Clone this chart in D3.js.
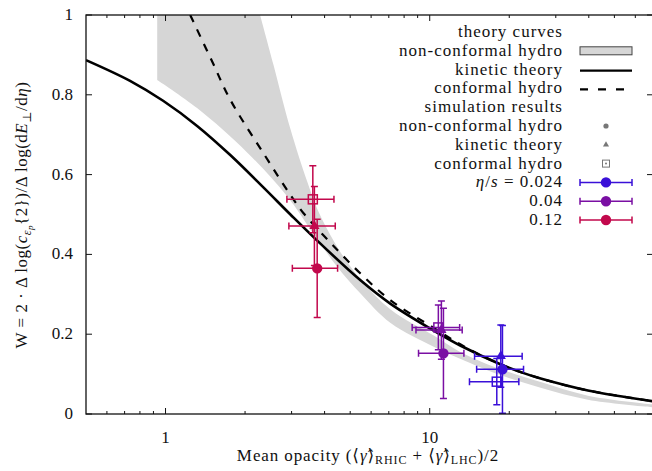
<!DOCTYPE html>
<html>
<head>
<meta charset="utf-8">
<script src="https://cdn.jsdelivr.net/npm/d3@7"></script>
<style>
  body { margin: 0; background: #fff; }
  svg text { fill: #111; font-family: "Liberation Serif", "Times New Roman", Times, "DejaVu Serif", "Noto Serif", serif; }
</style>
</head>
<body>
<svg id="chart"></svg>
<script>
// theory curves
const kineticX = [0.5, 0.734, 0.979, 1.317, 1.758, 2.346, 2.97, 3.69, 5.47, 7.11, 10.35, 13.1, 18.6, 22.1, 26.3, 39.7, 70];
const kineticW = [0.887, 0.835, 0.785, 0.722, 0.649, 0.568, 0.500, 0.439, 0.335, 0.276, 0.209, 0.171, 0.124, 0.105, 0.089, 0.059, 0.032];

const conformalX = [1.24, 1.5, 1.76, 2.35, 2.97, 3.33, 4.2, 5.47, 7.11, 10.4, 13.1, 18.6, 26.3, 39.7, 70];
const conformalW = [1.0, 0.884, 0.787, 0.653, 0.549, 0.503, 0.430, 0.352, 0.285, 0.215, 0.174, 0.124, 0.089, 0.059, 0.032];

// non-conformal hydro band: upper and lower edges
const bandUpX = [0.93, 2.28, 2.56, 2.97, 3.44, 3.86, 4.6, 5.47, 7.11, 10.4, 13.1, 18.6, 26.3, 39.7, 70];
const bandUpW = [1.0, 1.0, 0.876, 0.714, 0.582, 0.496, 0.405, 0.338, 0.262, 0.196, 0.155, 0.112, 0.080, 0.046, 0.024];
const bandLoX = [0.93, 1.32, 2.04, 2.89, 3.6, 4.5, 5.47, 7.11, 10.4, 13.1, 18.6, 26.3, 39.7, 70];
const bandLoW = [0.837, 0.766, 0.655, 0.545, 0.455, 0.366, 0.302, 0.228, 0.168, 0.138, 0.097, 0.066, 0.036, 0.017];

// simulation results, one entry per eta/s
const etaLabels = ["\u03B7/s = 0.024", "0.04", "0.12"];
const xErr = [3.8, 2.2, 0.73];

const hydroSimX = [18.85, 11.27, 3.75];
const hydroSimW = [0.112, 0.152, 0.365];
const hydroSimErr = [0.11, 0.113, 0.123];

const kineticSimX = [18.58, 11.07, 3.66];
const kineticSimW = [0.145, 0.2105, 0.471];
const kineticSimErr = [0.078, 0.073, 0.099];

const conformalSimX = [17.94, 10.78, 3.61];
const conformalSimW = [0.081, 0.217, 0.538];
const conformalSimErr = [0.058, 0.056, 0.084];

// axes
const xMajor = [1, 10];
const xMinor = [0.6, 0.7, 0.8, 0.9, 2, 3, 4, 5, 6, 7, 8, 9, 20, 30, 40, 50, 60];
const yTicks = [0, 0.2, 0.4, 0.6, 0.8, 1];

const width = 652, height = 471;
const margin = { top: 15, right: -1, bottom: 57, left: 86 };
const colors = ["#3a10d8", "#7a0fa3", "#c2084c"];

const svg = d3.select("#chart").attr("width", width).attr("height", height);

const x = d3.scaleLog().domain([0.5, 70]).range([margin.left, width - margin.right]);
const y = d3.scaleLinear().domain([0, 1]).range([height - margin.bottom, margin.top]);

svg.append("defs").append("clipPath").attr("id", "clip")
  .append("rect")
  .attr("x", margin.left).attr("y", margin.top)
  .attr("width", x.range()[1] - margin.left).attr("height", y(0) - margin.top);

const plot = svg.append("g").attr("clip-path", "url(#clip)");

const smooth = d3.line().x(d => x(d[0])).y(d => y(d[1])).curve(d3.curveCatmullRom);
const zip = (a, b) => a.map((v, i) => [v, b[i]]);

// gray band
const up = zip(bandUpX, bandUpW);
const lo = zip(bandLoX, bandLoW);
const upPath = smooth(up.slice(1)).replace(/^M/, "L");
const loPath = smooth(lo.slice().reverse()).replace(/^M/, "L");
plot.append("path")
  .attr("d", `M${x(lo[0][0])},${y(lo[0][1])}L${x(up[0][0])},${y(up[0][1])}${upPath}${loPath}Z`)
  .attr("fill", "#d6d6d6")
  .attr("stroke", "none");

// kinetic theory
plot.append("path")
  .datum(zip(kineticX, kineticW))
  .attr("d", smooth)
  .attr("fill", "none")
  .attr("stroke", "#000")
  .attr("stroke-width", 2.6);

// conformal hydro
plot.append("path")
  .datum(zip(conformalX, conformalW))
  .attr("d", smooth)
  .attr("fill", "none")
  .attr("stroke", "#000")
  .attr("stroke-width", 2.2)
  .attr("stroke-dasharray", "8,8");

// error bars + markers
const cap = 3.5;
function errorBar(g, cx, cy, dx, dy, color) {
  const x0 = x(cx - dx), x1 = x(cx + dx), px = x(cx);
  const y0 = y(cy - dy), y1 = y(cy + dy), py = y(cy);
  const p = d3.path();
  p.moveTo(x0, py); p.lineTo(x1, py);
  p.moveTo(x0, py - cap); p.lineTo(x0, py + cap);
  p.moveTo(x1, py - cap); p.lineTo(x1, py + cap);
  p.moveTo(px, y0); p.lineTo(px, y1);
  p.moveTo(px - cap, y0); p.lineTo(px + cap, y0);
  p.moveTo(px - cap, y1); p.lineTo(px + cap, y1);
  g.append("path").attr("d", p.toString())
    .attr("fill", "none").attr("stroke", color).attr("stroke-width", 1.5);
}

const pts = svg.append("g");
colors.forEach((c, i) => {
  errorBar(pts, conformalSimX[i], conformalSimW[i], xErr[i], conformalSimErr[i], c);
  errorBar(pts, kineticSimX[i], kineticSimW[i], xErr[i], kineticSimErr[i], c);
  errorBar(pts, hydroSimX[i], hydroSimW[i], xErr[i], hydroSimErr[i], c);
  pts.append("rect")
    .attr("x", x(conformalSimX[i]) - 4.5).attr("y", y(conformalSimW[i]) - 4.5)
    .attr("width", 9).attr("height", 9)
    .attr("fill", "none").attr("stroke", c).attr("stroke-width", 1.5);
  pts.append("path")
    .attr("d", d3.symbol(d3.symbolTriangle, 45)())
    .attr("transform", `translate(${x(kineticSimX[i])},${y(kineticSimW[i])})`)
    .attr("fill", c);
  pts.append("circle")
    .attr("cx", x(hydroSimX[i])).attr("cy", y(hydroSimW[i])).attr("r", 5.2)
    .attr("fill", c);
});

// axes
const yBot = y(0), yTop = margin.top, xLeft = margin.left, xRight = x.range()[1];
const ax = svg.append("g").attr("stroke", "#111").attr("stroke-width", 1);
xMinor.forEach(t => {
  ax.append("line").attr("x1", x(t)).attr("x2", x(t)).attr("y1", yBot).attr("y2", yBot - 3);
  ax.append("line").attr("x1", x(t)).attr("x2", x(t)).attr("y1", yTop).attr("y2", yTop + 3);
});
xMajor.forEach(t => {
  ax.append("line").attr("x1", x(t)).attr("x2", x(t)).attr("y1", yBot).attr("y2", yBot - 6);
  ax.append("line").attr("x1", x(t)).attr("x2", x(t)).attr("y1", yTop).attr("y2", yTop + 6);
});
yTicks.forEach(t => {
  ax.append("line").attr("x1", xLeft).attr("x2", xLeft + 6).attr("y1", y(t)).attr("y2", y(t));
  ax.append("line").attr("x1", xRight).attr("x2", xRight - 6).attr("y1", y(t)).attr("y2", y(t));
});
svg.append("rect")
  .attr("x", xLeft).attr("y", yTop).attr("width", xRight - xLeft).attr("height", yBot - yTop)
  .attr("fill", "none").attr("stroke", "#111").attr("stroke-width", 1.3);

const fs = 17;
xMajor.forEach(t => {
  svg.append("text").attr("x", x(t)).attr("y", yBot + 29)
    .attr("text-anchor", "middle").attr("font-size", fs).text(t);
});
yTicks.forEach(t => {
  svg.append("text").attr("x", xLeft - 13).attr("y", y(t) + 5)
    .attr("text-anchor", "end").attr("font-size", fs).text(t);
});

// x label
const xl = svg.append("text").attr("x", 368).attr("y", 461)
  .attr("text-anchor", "middle").attr("font-size", fs).attr("letter-spacing", 0.9);
xl.append("tspan").text("Mean opacity (\u27E8");
xl.append("tspan").attr("font-style", "italic").text("\u03B3\u0302");
xl.append("tspan").text("\u27E9");
xl.append("tspan").attr("font-size", 12).attr("dy", 3).text("RHIC");
xl.append("tspan").attr("dy", -3).text(" + \u27E8");
xl.append("tspan").attr("font-style", "italic").text("\u03B3\u0302");
xl.append("tspan").text("\u27E9");
xl.append("tspan").attr("font-size", 12).attr("dy", 3).text("LHC");
xl.append("tspan").attr("dy", -3).text(")/2");

// y label
const yl = svg.append("text")
  .attr("transform", "translate(27,215) rotate(-90)")
  .attr("text-anchor", "middle").attr("font-size", fs).attr("letter-spacing", 0.5);
yl.append("tspan").text("W = 2 \u00B7 \u0394 log(");
yl.append("tspan").attr("font-style", "italic").text("c");
yl.append("tspan").attr("font-size", 12).attr("font-style", "italic").attr("dy", 4).text("\u03B5");
yl.append("tspan").attr("font-size", 9).attr("font-style", "italic").attr("dy", 2).text("p");
yl.append("tspan").attr("dy", -6).text("{2})/\u0394 log(d");
yl.append("tspan").attr("font-style", "italic").text("E");
yl.append("tspan").attr("font-size", 12).attr("dy", 4).text("\u22A5");
yl.append("tspan").attr("dy", -4).text("/d");
yl.append("tspan").attr("font-style", "italic").text("\u03B7");
yl.append("tspan").text(")");

// legend
const legendRows = ["theory curves", "non-conformal hydro", "kinetic theory", "conformal hydro",
  "simulation results", "non-conformal hydro", "kinetic theory", "conformal hydro"].concat(etaLabels);
const lg = svg.append("g");
const rowY = i => 37 + i * 18.8;
const sx0 = 580, sx1 = 632, sxm = 606;
legendRows.forEach((label, i) => {
  const t = lg.append("text").attr("x", 563).attr("y", rowY(i))
    .attr("text-anchor", "end").attr("font-size", fs).attr("letter-spacing", 1);
  if (i === 8) {
    t.append("tspan").attr("font-style", "italic").text("\u03B7");
    t.append("tspan").text("/");
    t.append("tspan").attr("font-style", "italic").text("s");
    t.append("tspan").text(" = 0.024");
  } else {
    t.text(label);
  }
});
// samples
lg.append("rect").attr("x", sx0).attr("y", rowY(1) - 9).attr("width", sx1 - sx0).attr("height", 8)
  .attr("fill", "#d6d6d6").attr("stroke", "#444").attr("stroke-width", 1);
lg.append("line").attr("x1", sx0).attr("x2", sx1).attr("y1", rowY(2) - 4).attr("y2", rowY(2) - 4)
  .attr("stroke", "#000").attr("stroke-width", 2.4);
lg.append("line").attr("x1", sx0).attr("x2", sx1).attr("y1", rowY(3) - 4).attr("y2", rowY(3) - 4)
  .attr("stroke", "#000").attr("stroke-width", 2.2).attr("stroke-dasharray", "8,10");
lg.append("circle").attr("cx", sxm).attr("cy", rowY(5) - 5).attr("r", 2.6).attr("fill", "#777");
lg.append("path").attr("d", d3.symbol(d3.symbolTriangle, 16)())
  .attr("transform", `translate(${sxm},${rowY(6) - 5})`).attr("fill", "#777");
lg.append("rect").attr("x", sxm - 3.5).attr("y", rowY(7) - 8.5).attr("width", 7).attr("height", 7)
  .attr("fill", "none").attr("stroke", "#777").attr("stroke-width", 1);
lg.append("circle").attr("cx", sxm).attr("cy", rowY(7) - 5).attr("r", 1).attr("fill", "#777");
colors.forEach((c, i) => {
  const yy = rowY(8 + i) - 5;
  const p = d3.path();
  p.moveTo(sx0, yy); p.lineTo(sx1, yy);
  p.moveTo(sx0, yy - cap); p.lineTo(sx0, yy + cap);
  p.moveTo(sx1, yy - cap); p.lineTo(sx1, yy + cap);
  lg.append("path").attr("d", p.toString()).attr("stroke", c).attr("stroke-width", 1.5).attr("fill", "none");
  lg.append("circle").attr("cx", sxm).attr("cy", yy).attr("r", 5.2).attr("fill", c);
});
</script>
</body>
</html>
